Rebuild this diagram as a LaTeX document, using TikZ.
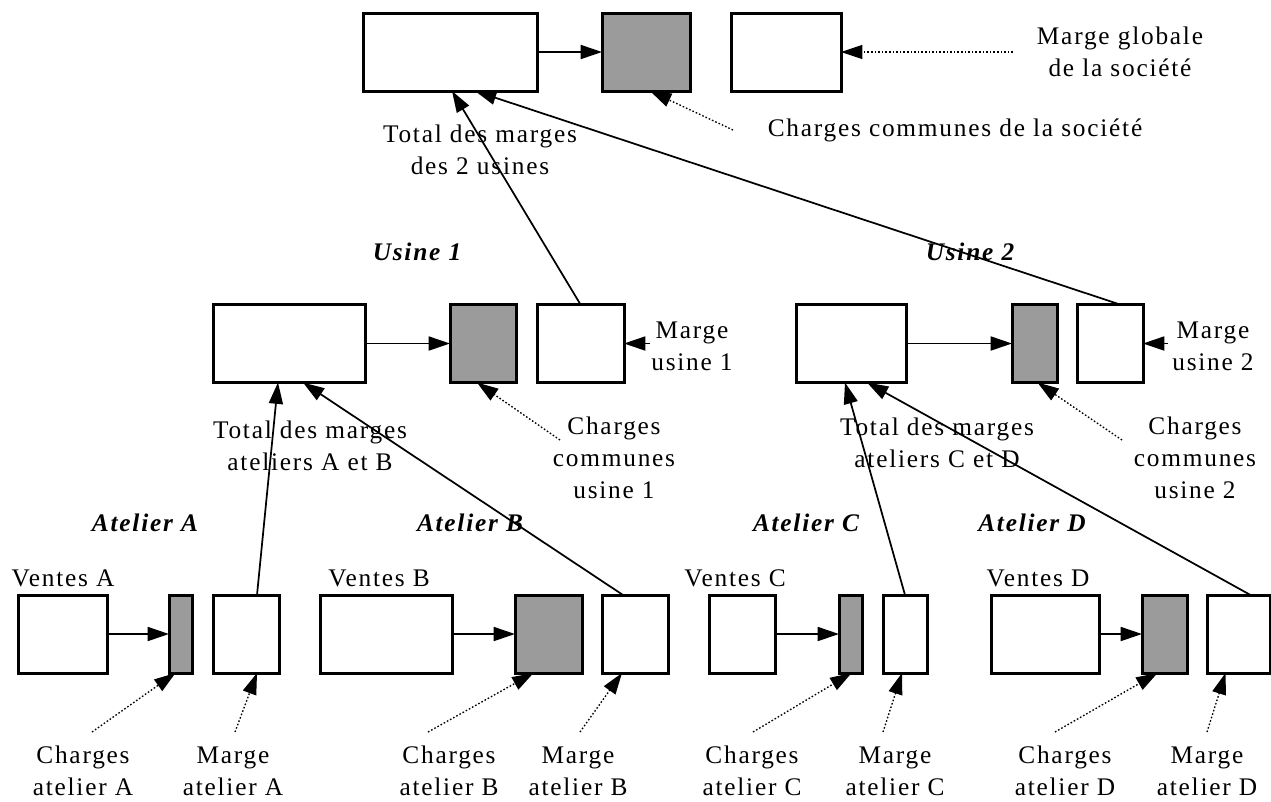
\documentclass[tikz,border=0pt]{standalone}
\usepackage{fontspec}
\setmainfont{Liberation Serif}[LetterSpace=7]
\usetikzlibrary{arrows.meta,calc}
\definecolor{shade}{RGB}{155,155,155}
\begin{document}
\begin{tikzpicture}[x=0.75pt,y=-0.75pt,
  box/.style={draw, line width=2.25pt, inner sep=0pt, outer sep=0pt, minimum height=78*0.75pt},
  wbox/.style={box, fill=white},
  gbox/.style={box, fill=shade},
  lbl/.style={align=center, inner sep=0pt, font=\fontsize{19}{24}\selectfont},
  ttl/.style={inner sep=0pt, font=\fontsize{19}{24}\selectfont\bfseries\itshape},
  link/.style={line width=1.3pt, -{Triangle[length=16pt,width=10.5pt]}},
  hint/.style={line width=1pt, dash pattern=on 1.2pt off 1.5pt, -{Triangle[length=16pt,width=10.5pt]}}]
\useasboundingbox (0,0) rectangle (1271,801);

% ---- top level
\node[wbox, minimum width=174*0.75pt] (T1) at (450,52) {};
\node[gbox, minimum width=88*0.75pt] (TC) at (646,52) {};
\node[wbox, minimum width=110*0.75pt] (TM) at (786,52) {};

% ---- usine 1
\node[wbox, minimum width=152*0.75pt] (U1) at (289,343.5) {};
\node[gbox, minimum width=66*0.75pt] (U1C) at (483,343.5) {};
\node[wbox, minimum width=87*0.75pt] (U1M) at (580.5,343.5) {};

% ---- usine 2
\node[wbox, minimum width=110*0.75pt] (U2) at (851,343.5) {};
\node[gbox, minimum width=45*0.75pt] (U2C) at (1034.5,343.5) {};
\node[wbox, minimum width=66*0.75pt] (U2M) at (1110,343.5) {};

% ---- ateliers
\node[wbox, minimum width=89*0.75pt] (VA) at (62.5,634) {};
\node[gbox, minimum width=23*0.75pt] (CA) at (180.5,634) {};
\node[wbox, minimum width=66*0.75pt] (MA) at (246,634) {};

\node[wbox, minimum width=132*0.75pt] (VB) at (386,634) {};
\node[gbox, minimum width=67*0.75pt] (CB) at (548.5,634) {};
\node[wbox, minimum width=66*0.75pt] (MB) at (635,634) {};

\node[wbox, minimum width=66*0.75pt] (VC) at (742,634) {};
\node[gbox, minimum width=23*0.75pt] (CC) at (850.5,634) {};
\node[wbox, minimum width=44*0.75pt] (MC) at (905,634) {};

\node[wbox, minimum width=108*0.75pt] (VD) at (1045,634) {};
\node[gbox, minimum width=45*0.75pt] (CD) at (1164.5,634) {};
\node[wbox, minimum width=63*0.75pt] (MD) at (1238.5,634) {};

% ---- texts
\node[lbl] (tMG) at (1120,52) {Marge globale\\de la société};
\node[lbl] (tCS) at (955,130) {Charges communes de la société};
\node[lbl] (tT2) at (480,150) {Total des marges\\des 2 usines};
\node[ttl] (tU1) at (417,252) {Usine 1};
\node[ttl] (tU2) at (970,252) {Usine 2};
\node[lbl] (tMU1) at (692,346) {Marge\\usine 1};
\node[lbl] (tMU2) at (1213,346) {Marge\\usine 2};
\node[lbl] (tTAB) at (310,446) {Total des marges\\ateliers A et B};
\node[lbl] (tCU1) at (614,458) {Charges\\communes\\usine 1};
\node[lbl] (tTCD) at (937,443) {Total des marges\\ateliers C et D};
\node[lbl] (tCU2) at (1195,458) {Charges\\communes\\usine 2};

\node[ttl] (tAA) at (145,523) {Atelier A};
\node[ttl] (tAB) at (470,523) {Atelier B};
\node[ttl] (tAC) at (806,523) {Atelier C};
\node[ttl] (tAD) at (1032,523) {Atelier D};

\node[lbl] (tVA) at (63,578) {Ventes A};
\node[lbl] (tVB) at (379,578) {Ventes B};
\node[lbl] (tVC) at (735,578) {Ventes C};
\node[lbl] (tVD) at (1038,578) {Ventes D};

\node[lbl] (tCA) at (83,771) {Charges\\atelier A};
\node[lbl] (tMA) at (233,771) {Marge\\atelier A};
\node[lbl] (tCB) at (449,771) {Charges\\atelier B};
\node[lbl] (tMB) at (578,771) {Marge\\atelier B};
\node[lbl] (tCC) at (752,771) {Charges\\atelier C};
\node[lbl] (tMC) at (895,771) {Marge\\atelier C};
\node[lbl] (tCD) at (1065,771) {Charges\\atelier D};
\node[lbl] (tMD) at (1207,771) {Marge\\atelier D};

% ---- free ends of pointer arrows
\coordinate (sMG) at (1013,52);
\coordinate (sCS) at (733,130);
\coordinate (sMU1) at (650,343.5);
\coordinate (sMU2) at (1168,343.5);
\coordinate (sCU1) at (560,440);
\coordinate (sCU2) at (1122,440);
\coordinate (sCA) at (92,732);
\coordinate (sMA) at (235,732);
\coordinate (sCB) at (428,732);
\coordinate (sMB) at (580,732);
\coordinate (sCC) at (753,732);
\coordinate (sMC) at (883,732);
\coordinate (sCD) at (1055,732);
\coordinate (sMD) at (1207,732);

% ---- connectors
\draw[link] (T1.east) -- (TC.west);
\draw[link] (U1.east) -- (U1C.west);
\draw[link] (U2.east) -- (U2C.west);
\draw[link] (VA.east) -- (CA.west);
\draw[link] (VB.east) -- (CB.west);
\draw[link] (VC.east) -- (CC.west);
\draw[link] (VD.east) -- (CD.west);

\draw[link] (U1M.north) -- ($(T1.south)+(2,0)$);
\draw[link] ($(U2M.north)+(10,0)$) -- ($(T1.south)+(25,0)$);
\draw[link] ($(MA.north)+(11,0)$) -- ($(U1.south)+(-11,0)$);
\draw[link] ($(MB.north)+(-12,0)$) -- ($(U1.south)+(14,0)$);
\draw[link] (MC.north) -- ($(U2.south)+(-6,0)$);
\draw[link] ($(MD.north)+(12,0)$) -- ($(U2.south)+(16,0)$);

\draw[link] (sMU1) -- (U1M.east);
\draw[link] (sMU2) -- (U2M.east);

\draw[hint] (sMG) -- (TM.east);
\draw[hint] (sCS) -- ($(TC.south)+(4,0)$);
\draw[hint] (sCU1) -- ($(U1C.south)+(-6,0)$);
\draw[hint] (sCU2) -- ($(U2C.south)+(3,0)$);
\draw[hint] (sCA) -- ($(CA.south)+(-5,0)$);
\draw[hint] (sMA) -- ($(MA.south)+(11,0)$);
\draw[hint] (sCB) -- ($(CB.south)+(-15,0)$);
\draw[hint] (sMB) -- ($(MB.south)+(-13,0)$);
\draw[hint] (sCC) -- ($(CC.south)+(1,0)$);
\draw[hint] (sMC) -- ($(MC.south)+(-3,0)$);
\draw[hint] (sCD) -- ($(CD.south)+(-7,0)$);
\draw[hint] (sMD) -- ($(MD.south)+(-13,0)$);
\end{tikzpicture}
\end{document}
